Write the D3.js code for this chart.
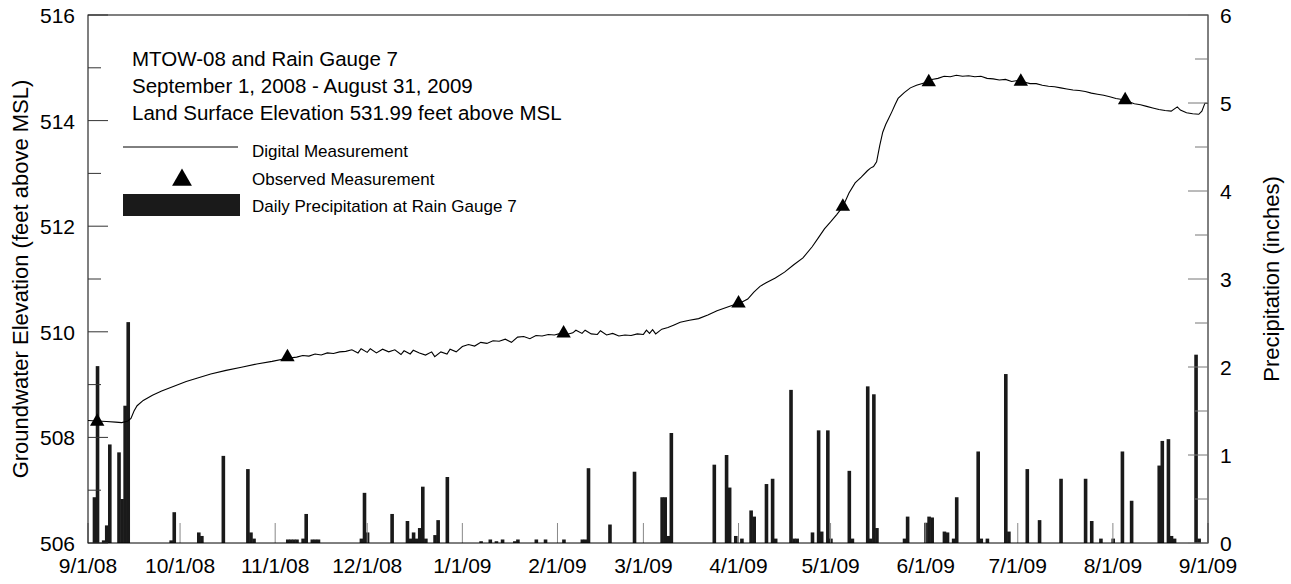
<!DOCTYPE html>
<html>
<head>
<meta charset="utf-8">
<script src="https://cdn.jsdelivr.net/npm/d3@7"></script>
<style>
  body { margin: 0; background: #fff; }
  text { font-family: "Liberation Sans", Arial, sans-serif; fill: #000; }
</style>
</head>
<body>
<div id="chart"></div>
<script>
// Day of record (0 = 9/1/08) and groundwater elevation, feet above MSL
const digitalDays = [0,3,6,9,11,13,14,15,16,18,21,24,28,32,36,40,45,50,55,60,65,68,70,72,74,76,78,80,82,84,86,88,89,91,92,94,96,98,100,102,103,105,106,108,110,112,113,115,117,118,120,122,124,126,128,130,132,134,136,138,140,142,144,146,148,150,152,154,156,158,159,161,162,164,166,167,169,171,173,175,177,179,181,182,183,184,185,187,189,191,193,196,199,202,205,208,211,213,215,217,219,221,224,227,230,233,236,238,240,242,244,246,248,250,252,254,255,256,257,258,259,260,261,262,263,264,266,268,270,273,275,277,279,281,283,285,287,289,291,293,295,297,299,301,303,305,307,309,311,313,315,317,319,321,323,325,327,329,331,333,335,337,339,341,343,345,347,349,351,353,355,356,358,360,362,363,364,365];
const digitalElev = [508.32,508.31,508.30,508.29,508.28,508.31,508.36,508.50,508.60,508.70,508.80,508.88,508.97,509.06,509.13,509.20,509.27,509.33,509.39,509.44,509.50,509.52,509.55,509.54,509.58,509.56,509.60,509.59,509.62,509.63,509.66,509.60,509.68,509.61,509.68,509.60,509.67,509.62,509.66,509.57,509.64,509.58,509.65,509.60,509.56,509.62,509.53,509.62,509.58,509.67,509.62,509.72,509.76,509.73,509.80,509.78,509.83,509.82,509.86,509.80,509.90,509.91,509.87,509.93,509.92,509.95,509.94,509.97,509.95,509.98,510.03,509.97,510.03,509.96,509.95,510.02,509.94,509.97,509.92,509.94,509.93,509.96,509.95,510.03,509.97,510.04,509.96,510.05,510.08,510.13,510.18,510.22,510.25,510.32,510.40,510.46,510.52,510.56,510.62,510.75,510.86,510.93,511.02,511.13,511.27,511.40,511.61,511.78,511.95,512.08,512.22,512.37,512.63,512.82,512.93,513.05,513.10,513.13,513.22,513.52,513.78,513.93,514.05,514.17,514.30,514.42,514.53,514.62,514.67,514.72,514.78,514.80,514.84,514.83,514.86,514.84,514.85,514.83,514.84,514.80,514.79,514.77,514.78,514.74,514.76,514.73,514.70,514.70,514.67,514.65,514.64,514.62,514.60,514.58,514.57,514.55,514.52,514.50,514.48,514.45,514.42,514.40,514.36,514.32,514.30,514.27,514.24,514.21,514.19,514.18,514.26,514.20,514.15,514.13,514.12,514.18,514.33,514.33];

// Observed (hand) measurements
const observedDays = [3, 65, 155, 212, 246, 274, 304, 338];
const observedElev = [508.30, 509.52, 509.97, 510.54, 512.37, 514.73, 514.74, 514.39];

// Daily precipitation at Rain Gauge 7, inches
const rainDays = [1,2,4,5,6,9,10,11,12,26,27,35,36,43,51,52,53,64,65,66,67,69,70,72,73,74,88,89,90,98,103,104,105,106,107,108,109,112,113,116,127,130,132,134,138,139,145,148,154,160,161,162,169,177,186,187,188,189,203,207,208,210,212,215,216,220,222,223,228,229,230,235,237,238,240,241,247,248,253,254,255,256,265,266,272,273,274,278,279,281,282,289,290,292,298,299,305,309,316,324,326,329,333,336,339,348,349,351,352,353,360,361];
const rainInches = [0.52,2.01,0.03,0.20,1.12,1.03,0.50,1.56,2.51,0.03,0.35,0.12,0.08,0.99,0.84,0.12,0.05,0.04,0.04,0.04,0.04,0.05,0.33,0.04,0.04,0.04,0.05,0.57,0.12,0.33,0.25,0.05,0.12,0.05,0.17,0.64,0.05,0.09,0.26,0.75,0.02,0.04,0.02,0.04,0.02,0.04,0.04,0.04,0.04,0.04,0.04,0.85,0.21,0.81,0.52,0.52,0.08,1.25,0.89,1.00,0.63,0.08,0.05,0.37,0.30,0.67,0.73,0.05,1.74,0.05,0.05,0.12,1.28,0.13,1.28,0.05,0.82,0.05,1.78,0.05,1.69,0.17,0.05,0.30,0.23,0.30,0.29,0.13,0.12,0.05,0.52,1.04,0.05,0.05,1.92,0.13,0.84,0.26,0.73,0.73,0.25,0.05,0.05,1.04,0.48,0.88,1.16,1.18,0.08,0.05,2.14,0.05];

const titleLines = ['MTOW-08 and Rain Gauge 7', 'September 1, 2008 - August 31, 2009', 'Land Surface Elevation 531.99 feet above MSL'];
const legendLabels = ['Digital Measurement', 'Observed Measurement', 'Daily Precipitation at Rain Gauge 7'];

const W = 1291, H = 584;
const margin = {top: 15, right: 83, bottom: 41, left: 88};
const start = new Date(2008, 8, 1);
const end = new Date(2009, 8, 1);
const toDate = d => d3.timeDay.offset(start, d);

const svg = d3.select('#chart').append('svg')
  .attr('width', W).attr('height', H);

const x = d3.scaleTime().domain([start, end]).range([margin.left, W - margin.right]);
const y = d3.scaleLinear().domain([506, 516]).range([H - margin.bottom, margin.top]);
const yr = d3.scaleLinear().domain([0, 6]).range([H - margin.bottom, margin.top]);

const x0 = margin.left, x1 = W - margin.right, yTop = margin.top, yBot = H - margin.bottom;

// precipitation bars
svg.append('g').selectAll('rect')
  .data(rainDays.map((d, i) => ({date: toDate(d), v: rainInches[i]})))
  .join('rect')
  .attr('x', d => x(d.date) + 1.6)
  .attr('width', 3.6)
  .attr('y', d => yr(d.v))
  .attr('height', d => yBot - yr(d.v))
  .attr('fill', '#1a1a1a');

// month ticks along the bottom (pointing up)
const months = x.ticks(d3.timeMonth.every(1));
svg.append('g').selectAll('line')
  .data(months)
  .join('line')
  .attr('x1', d => x(d)).attr('x2', d => x(d))
  .attr('y1', yBot).attr('y2', yBot - 20)
  .attr('stroke', '#888').attr('stroke-width', 1);

// x tick labels
svg.append('g').selectAll('text')
  .data(months)
  .join('text')
  .attr('x', d => x(d)).attr('y', yBot + 30)
  .attr('text-anchor', 'middle')
  .attr('font-size', 21)
  .text(d3.timeFormat('%-m/%-d/%y'));

// digital measurement line
const line = d3.line()
  .x(d => x(toDate(d[0])))
  .y(d => y(d[1]));
svg.append('path')
  .datum(digitalDays.map((d, i) => [d, digitalElev[i]]))
  .attr('d', line)
  .attr('fill', 'none')
  .attr('stroke', '#000')
  .attr('stroke-width', 1.1);

// observed measurement triangles
svg.append('g').selectAll('path')
  .data(observedDays.map((d, i) => [d, observedElev[i]]))
  .join('path')
  .attr('transform', d => `translate(${x(toDate(d[0]))},${y(d[1])})`)
  .attr('d', d3.symbol(d3.symbolTriangle, 90))
  .attr('fill', '#000');

// frame
svg.append('rect')
  .attr('x', x0).attr('y', yTop)
  .attr('width', x1 - x0).attr('height', yBot - yTop)
  .attr('fill', 'none').attr('stroke', '#000');

// left axis ticks (inward)
const leftMajor = d3.range(506, 517, 2);
const leftMinor = d3.range(507, 516, 2);
svg.append('g').selectAll('line')
  .data(leftMajor.map(v => [v, 20]).concat(leftMinor.map(v => [v, 13])))
  .join('line')
  .attr('x1', x0).attr('x2', d => x0 + d[1])
  .attr('y1', d => y(d[0])).attr('y2', d => y(d[0]))
  .attr('stroke', '#333');
svg.append('g').selectAll('text')
  .data(leftMajor)
  .join('text')
  .attr('x', x0 - 13).attr('y', d => y(d) + 8)
  .attr('text-anchor', 'end')
  .attr('font-size', 21)
  .text(d => d);

// right axis ticks (inward)
const rightMajor = d3.range(0, 7, 1);
const rightMinor = d3.range(0.5, 6, 1);
svg.append('g').selectAll('line')
  .data(rightMajor.map(v => [v, 20]).concat(rightMinor.map(v => [v, 13])))
  .join('line')
  .attr('x1', x1).attr('x2', d => x1 - d[1])
  .attr('y1', d => yr(d[0])).attr('y2', d => yr(d[0]))
  .attr('stroke', '#777');
svg.append('g').selectAll('text')
  .data(rightMajor)
  .join('text')
  .attr('x', x1 + 12).attr('y', d => yr(d) + 8)
  .attr('font-size', 21)
  .text(d => d);

// axis titles
svg.append('text')
  .attr('transform', `translate(28,${(yTop + yBot) / 2}) rotate(-90)`)
  .attr('text-anchor', 'middle')
  .attr('font-size', 22)
  .text('Groundwater Elevation (feet above MSL)');
svg.append('text')
  .attr('transform', `translate(1279,${(yTop + yBot) / 2}) rotate(-90)`)
  .attr('text-anchor', 'middle')
  .attr('font-size', 22)
  .text('Precipitation (inches)');

// title block
svg.append('g').selectAll('text')
  .data(titleLines)
  .join('text')
  .attr('x', 132).attr('y', (d, i) => 66 + i * 27)
  .attr('font-size', 20.5)
  .text(d => d);

// legend
const lg = svg.append('g');
lg.append('line').attr('x1', 123).attr('x2', 238).attr('y1', 147).attr('y2', 147)
  .attr('stroke', '#000').attr('stroke-width', 1);
lg.append('path').attr('transform', 'translate(182,180)')
  .attr('d', d3.symbol(d3.symbolTriangle, 170)).attr('fill', '#000');
lg.append('rect').attr('x', 123).attr('y', 194).attr('width', 117).attr('height', 22).attr('fill', '#1a1a1a');
lg.selectAll('text.lab')
  .data(legendLabels)
  .join('text')
  .attr('class', 'lab')
  .attr('x', 252).attr('y', (d, i) => 157 + i * 27.5)
  .attr('font-size', 17)
  .text(d => d);
</script>
</body>
</html>
